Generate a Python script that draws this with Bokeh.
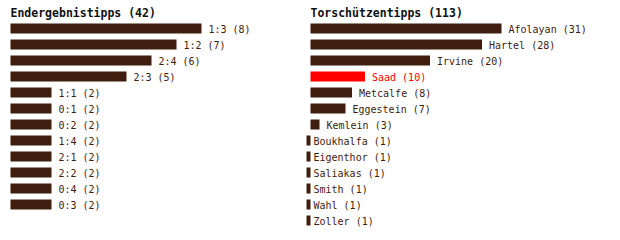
from bokeh.plotting import figure
from bokeh.models import ColumnDataSource, Range1d
from bokeh.layouts import row
from bokeh.core.properties import value
from bokeh.embed import file_html
from bokeh.resources import INLINE

# ---- data ----
left_title = "Endergebnistipps (42)"
left_labels = ["1:3", "1:2", "2:4", "2:3", "1:1", "0:1", "0:2", "1:4", "2:1", "2:2", "0:4", "0:3"]
left_values = [8, 7, 6, 5, 2, 2, 2, 2, 2, 2, 2, 2]

right_title = "Torschützentipps (113)"
right_names = ["Afolayan", "Hartel", "Irvine", "Saad", "Metcalfe", "Eggestein", "Kemlein",
               "Boukhalfa", "Eigenthor", "Saliakas", "Smith", "Wahl", "Zoller"]
right_values = [31, 28, 20, 10, 8, 7, 3, 1, 1, 1, 1, 1, 1]
highlight = "Saad"

# ---- style ----
BAR = "#3f1d0f"
RED = "#ff0000"
FONT = "DejaVu Sans Mono"
H = 240
ROW_PX = 16
FIRST_ROW_PX = 28


def panel(title, names, vals, width, px_per_unit, zero_px, hl=None):
    start = -zero_px / px_per_unit
    end = start + width / px_per_unit
    base = start + 10 / px_per_unit  # bars start at 10px from panel left
    y_top = -FIRST_ROW_PX / ROW_PX
    y_bottom = y_top + H / ROW_PX
    p = figure(width=width, height=H, output_backend="svg", toolbar_location=None,
               x_range=Range1d(start, end), y_range=Range1d(y_bottom, y_top),
               min_border=0, outline_line_color=None, background_fill_color="white",
               border_fill_color="white")
    p.axis.visible = False
    p.grid.visible = False
    colors = [RED if n == hl else BAR for n in names]
    src = ColumnDataSource(dict(
        y=list(range(len(vals))),
        right=vals,
        left=[base] * len(vals),
        text=[f"{n} ({v})" for n, v in zip(names, vals)],
        color=colors,
    ))
    p.hbar(y="y", left="left", right="right", height=10 / ROW_PX, color="color",
           line_color=None, source=src)
    p.text(x="right", y="y", text="text", text_color="color", source=src,
           text_font=value(FONT), text_font_size="10px", text_baseline="middle",
           x_offset=7, y_offset=1)
    p.text(x=[base], y=[-1], text=[title], text_font=value(FONT), text_font_size="11.5px",
           text_font_style="bold", text_color="#111111", text_baseline="middle", y_offset=0)
    return p


p1 = panel(left_title, left_labels, left_values, 300, 25.0, 1.0)
p2 = panel(right_title, right_names, right_values, 320, 6.5, -0.5, highlight)
p = row(p1, p2)

open("out.html", "w").write(file_html(p, INLINE))
